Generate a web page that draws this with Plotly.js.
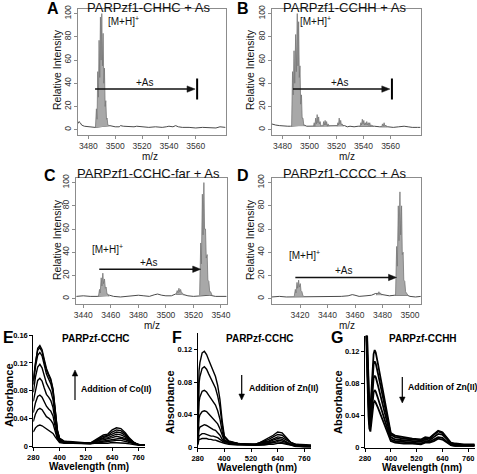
<!DOCTYPE html>
<html><head><meta charset="utf-8">
<script src="https://cdn.plot.ly/plotly-3.0.1.min.js"></script>
<style>html,body{margin:0;padding:0;background:#fff}#chart{width:477px;height:474px}</style>
</head><body><div id="chart"></div>
<script>
// ---------- DATA ----------
// Panel A: PARPzf1-CHHC + As
const aBaseMz  = [3472,3473,3474,3475,3477,3480,3483,3485,3496,3498,3500,3503,3504,3506,3510,3514,3516,3520,3525,3530,3535,3538,3540,3543,3545,3547,3550,3555,3560,3565,3570,3575,3578,3580,3582];
const aBaseInt = [5,7,6,4,3,2.5,2,2,3.5,3,2.5,2.5,3.5,3,2.5,2.5,3,2.5,2,2.5,2,2.5,3,2.5,3.5,2.5,2,2,1.5,2,2,1.5,2.5,2,2];
const aPeakMz  = [3485.3,3486,3486.5,3487,3487.5,3488,3488.5,3489,3489.5,3490,3490.5,3491,3491.5,3492,3492.5,3493,3493.5,3494,3494.5,3495,3495.7];
const aPeakInt = [2,18,9,50,28,77,45,97,60,100,55,83,40,53,20,25,9,10,4,4,3];
// Panel B: PARPzf1-CCHH + As
const bBaseMz  = [3472,3473,3475,3478,3481,3484,3486,3496,3498,3500,3502,3509,3515,3518,3526,3528,3530,3533,3536,3548,3550,3552,3558,3562,3566,3570,3573,3576,3580,3582];
const bBaseInt = [5,4.5,4,3.5,3,3,3,4,3,3,3,3.5,3,3,3.5,2.5,3,2.5,3,3,2.5,2.5,2.5,2,2.5,3,2.5,2,2,2];
const bPeakMz  = [3486.8,3487.5,3488,3488.6,3489.1,3489.8,3490.3,3491,3491.5,3492,3492.5,3493,3493.5,3494.1,3494.6,3495.2,3495.8,3496.5,null,
                  3503,3503.5,3504,3504.6,3505.1,3505.7,3506.2,3506.8,3507.3,3507.9,3508.5,null,
                  3510,3510.5,3511,3511.6,3512.1,3512.7,3513.2,3513.8,3514.4,null,
                  3520.5,3521,3521.5,3522,3522.5,3523.1,3523.6,3524.2,3525,null,
                  3537.5,3538,3538.5,3539.1,3539.6,3540.2,3540.7,3541.3,3541.8,3542.4,3542.9,3543.5,3544,3544.6,3545.2,3546,3547,null,
                  3553.5,3554,3554.6,3555.2,3555.8,3556.5,3557.2];
const bPeakInt = [3,50,30,68,40,82,50,100,55,93,45,55,22,30,10,10,4,3,null,
                  3,6,3,10,5,13,6,11,5,7,3,null,
                  3,7,4,8,4,7,3,5,3,null,
                  3,6,4,10,5,8,4,5,3,null,
                  3,6,4,9,5,8,4,6,4,7,4,6,3.5,6,3,4,3,null,
                  2.5,5,3,6,3,4,2.5];
// Panel C: PARPzf1-CCHC-far + As
const cBaseMz  = [3435,3440,3445,3450,3459,3462,3467,3472,3476,3480,3484,3488,3492,3494,3497,3500,3504,3507,3513,3516,3520,3524,3532,3536,3540,3544];
const cBaseInt = [2,2.5,2,2,3,2,1.5,2,2.5,3,2.5,2,3.5,4,3,2.5,2.5,4,3.5,2.5,2,2.5,3,2,2,2];
const cPeakMz  = [3451,3451.8,3452.3,3453,3453.5,3454.2,3454.7,3455.4,3456,3456.6,3457.2,3457.9,3458.7,null,
                  3507.5,3508.2,3508.8,3509.5,3510,3510.7,3511.3,3512,3513,null,
                  3524.5,3525.3,3525.8,3526.5,3527,3527.6,3528.1,3528.8,3529.3,3530,3530.5,3531.2,3531.8,3532.5,3533.5];
const cPeakInt = [2,8,5,18,11,22,13,17,9,10,4,4,2,null,
                  4,7,5,9,6,8,5,5,3,null,
                  3,48,30,90,55,100,60,60,35,38,16,15,6,6,3];
// Panel D: PARPzf1-CCCC + As
const dBaseMz  = [3399.5,3405,3410,3415,3424,3428,3432,3436,3440,3445,3450,3455,3458,3460,3463,3468,3472,3475,3481,3485,3489,3498,3500,3504,3508];
const dBaseInt = [1.5,2,1.5,1.5,2,1.5,2,1.5,2,2,2,2.5,3.5,3,2,2.5,3,4.5,3,2.5,3,3,2,1.5,2];
const dPeakMz  = [3415.8,3416.6,3417.1,3417.8,3418.3,3419,3419.5,3420.2,3420.7,3421.4,3422,3422.8,null,
                  3475.5,3476.2,3476.8,3477.4,3478,3478.6,3479.3,null,
                  3489.5,3490.3,3490.8,3491.5,3492,3492.7,3493.2,3493.9,3494.4,3495,3495.5,3496.2,3496.8,3497.5,3498.5];
const dPeakInt = [2,8,5,14,9,16,10,13,7,6,3,2,null,
                  3,5,4,6,4,5,3,null,
                  3,45,28,80,50,92,55,80,38,40,16,15,6,5,3];

// Panel E: Co(II) titration of PARPzf-CCHC
const eWl = [280,290,300,310,320,330,340,350,360,370,380,390,400,420,460,500,540,560,580,600,620,640,660,680,700,720,740,760,790];
const eAbs1 = [0.021,0.027,0.030,0.031,0.030,0.028,0.026,0.024,0.022,0.019,0.014,0.009,0.006,0.005,0.005,0.004,0.004,0.004,0.005,0.005,0.005,0.006,0.006,0.006,0.005,0.004,0.003,0.002,0.002];
const eAbs2 = [0.036,0.047,0.053,0.055,0.053,0.048,0.043,0.041,0.038,0.033,0.022,0.011,0.007,0.006,0.005,0.005,0.004,0.005,0.006,0.007,0.007,0.008,0.009,0.009,0.008,0.006,0.004,0.003,0.002];
const eAbs3 = [0.049,0.063,0.072,0.074,0.071,0.064,0.058,0.054,0.051,0.044,0.029,0.013,0.008,0.006,0.005,0.005,0.004,0.006,0.007,0.008,0.009,0.011,0.012,0.012,0.010,0.007,0.004,0.003,0.002];
const eAbs4 = [0.065,0.083,0.095,0.098,0.094,0.084,0.075,0.071,0.066,0.056,0.037,0.017,0.009,0.007,0.006,0.005,0.005,0.006,0.009,0.010,0.011,0.013,0.015,0.014,0.012,0.008,0.005,0.003,0.002];
const eAbs5 = [0.078,0.100,0.114,0.118,0.113,0.101,0.091,0.085,0.079,0.067,0.044,0.020,0.010,0.007,0.006,0.005,0.005,0.007,0.010,0.012,0.013,0.016,0.018,0.017,0.014,0.009,0.005,0.003,0.002];
const eAbs6 = [0.089,0.115,0.131,0.135,0.130,0.116,0.104,0.097,0.090,0.077,0.051,0.022,0.011,0.007,0.006,0.006,0.005,0.007,0.011,0.013,0.015,0.018,0.021,0.020,0.016,0.010,0.006,0.003,0.002];
const eAbs7 = [0.094,0.121,0.138,0.142,0.136,0.122,0.109,0.102,0.095,0.081,0.053,0.023,0.012,0.008,0.006,0.006,0.005,0.008,0.012,0.015,0.016,0.021,0.024,0.023,0.018,0.011,0.006,0.003,0.002];
const eAbs8 = [0.096,0.123,0.141,0.145,0.139,0.125,0.112,0.104,0.097,0.083,0.054,0.024,0.012,0.008,0.007,0.006,0.005,0.009,0.013,0.017,0.018,0.024,0.027,0.026,0.020,0.012,0.006,0.003,0.002];

// Panel F: Zn(II) titration of Co-PARPzf-CCHC
const fWl = [280,283,286,290,300,310,320,330,340,350,360,370,380,390,400,420,460,500,540,560,580,600,620,640,660,680,700,720,760,790];
const fAbs1 = [0.012,0.071,0.094,0.104,0.116,0.118,0.114,0.107,0.100,0.094,0.087,0.076,0.059,0.033,0.014,0.008,0.005,0.004,0.004,0.006,0.009,0.011,0.015,0.019,0.018,0.012,0.006,0.004,0.003,0.003];
const fAbs2 = [0.010,0.059,0.079,0.087,0.097,0.099,0.096,0.090,0.084,0.079,0.073,0.063,0.050,0.028,0.012,0.007,0.005,0.004,0.004,0.006,0.008,0.010,0.013,0.016,0.015,0.010,0.006,0.004,0.003,0.002];
const fAbs3 = [0.008,0.042,0.056,0.062,0.069,0.070,0.068,0.064,0.060,0.056,0.052,0.045,0.035,0.020,0.009,0.007,0.005,0.004,0.004,0.005,0.007,0.008,0.011,0.013,0.012,0.009,0.005,0.003,0.002,0.002];
const fAbs4 = [0.006,0.027,0.036,0.040,0.044,0.045,0.044,0.041,0.038,0.036,0.033,0.029,0.023,0.014,0.008,0.006,0.005,0.004,0.003,0.005,0.006,0.007,0.009,0.011,0.010,0.007,0.004,0.003,0.002,0.001];
const fAbs5 = [0.005,0.017,0.022,0.025,0.027,0.028,0.027,0.025,0.024,0.022,0.021,0.018,0.015,0.010,0.007,0.006,0.004,0.004,0.003,0.004,0.005,0.006,0.007,0.009,0.008,0.006,0.004,0.002,0.001,0.001];
const fAbs6 = [0.004,0.011,0.014,0.015,0.017,0.017,0.016,0.015,0.014,0.014,0.013,0.012,0.010,0.008,0.006,0.005,0.004,0.003,0.003,0.003,0.004,0.005,0.006,0.007,0.006,0.005,0.003,0.002,0.001,0.001];
const fAbs7 = [0.003,0.008,0.010,0.010,0.011,0.011,0.011,0.010,0.010,0.009,0.009,0.008,0.007,0.006,0.005,0.004,0.003,0.003,0.003,0.003,0.003,0.004,0.004,0.005,0.005,0.004,0.003,0.001,0.000,0.000];

// Panel G: Zn(II) titration of Co-PARPzf-CCHH
const gWl = [280,284,288,292,296,300,305,310,315,320,325,330,340,350,360,370,380,390,400,420,460,500,540,560,580,600,620,640,660,680,700,740,790];
const gAbs1 = [0.20,0.18,0.16,0.12,0.08,0.055,0.048,0.07,0.10,0.117,0.122,0.119,0.105,0.090,0.074,0.058,0.043,0.028,0.018,0.015,0.013,0.011,0.010,0.013,0.012,0.017,0.021,0.019,0.013,0.006,0.005,0.004,0.004];
const gAbs2 = [0.20,0.18,0.155,0.11,0.07,0.047,0.040,0.060,0.088,0.104,0.108,0.105,0.093,0.080,0.066,0.052,0.038,0.025,0.016,0.013,0.011,0.010,0.009,0.012,0.011,0.016,0.020,0.018,0.012,0.005,0.004,0.003,0.003];
const gAbs3 = [0.20,0.17,0.15,0.10,0.06,0.038,0.032,0.050,0.073,0.087,0.090,0.088,0.078,0.067,0.055,0.043,0.032,0.021,0.013,0.010,0.009,0.008,0.007,0.010,0.009,0.013,0.017,0.016,0.011,0.004,0.003,0.003,0.003];
const gAbs4 = [0.19,0.17,0.14,0.09,0.05,0.030,0.026,0.040,0.058,0.069,0.072,0.070,0.062,0.053,0.044,0.035,0.026,0.017,0.010,0.008,0.007,0.006,0.005,0.008,0.007,0.010,0.013,0.012,0.008,0.003,0.002,0.002,0.002];
const gAbs5 = [0.19,0.16,0.13,0.08,0.04,0.024,0.020,0.032,0.047,0.056,0.058,0.056,0.050,0.043,0.036,0.028,0.021,0.014,0.008,0.006,0.005,0.005,0.004,0.006,0.006,0.008,0.011,0.010,0.007,0.003,0.002,0.002,0.002];

// Tick values / labels
const mzTicksAB = [3480,3500,3520,3540,3560];
const mzTicksC  = [3440,3460,3480,3500,3520,3540];
const mzTicksD  = [3420,3440,3460,3480,3500];
const intTicks  = [0,20,40,60,80,100];
const wlTicks   = [280,400,520,640,760];
const absTicksE = [0,0.04,0.08,0.12,0.16];
const absTicksFG= [0,0.04,0.08,0.12];
const msTitles  = ["PARPzf1-CHHC + As","PARPzf1-CCHH + As","PARPzf1-CCHC-far + As","PARPzf1-CCCC + As"];
const uvTitles  = ["PARPzf-CCHC","PARPzf-CCHC","PARPzf-CCHH"];
const uvNotes   = ["Addition of Co(II)","Addition of Zn(II)","Addition of Zn(II)"];
const letters   = ["A","B","C","D","E","F","G"];

// ---------- LAYOUT ----------
const W = 477, H = 474;
const px = v => v / W, py = v => 1 - v / H;
const TOPF = "'Liberation Sans', Arial, Helvetica, sans-serif";
const BOTF = "'Liberation Sans', Arial, sans-serif";

const traces = [];
function ms(baseX, baseY, pkX, pkY, ax) {
  traces.push({x: baseX, y: baseY, mode: 'lines', line: {color: '#4a4a4a', width: 1}, xaxis: 'x' + ax, yaxis: 'y' + ax, hoverinfo: 'skip'});
  traces.push({x: pkX, y: pkY, mode: 'lines', fill: 'toself', fillcolor: '#a8a8a8', line: {color: '#767676', width: 0.8}, xaxis: 'x' + ax, yaxis: 'y' + ax, hoverinfo: 'skip'});
}
ms(aBaseMz, aBaseInt, aPeakMz, aPeakInt, '');
ms(bBaseMz, bBaseInt, bPeakMz, bPeakInt, '2');
ms(cBaseMz, cBaseInt, cPeakMz, cPeakInt, '3');
ms(dBaseMz, dBaseInt, dPeakMz, dPeakInt, '4');
function uv(xs, ys, ax, w) {
  traces.push({x: xs, y: ys, mode: 'lines', line: {color: '#000', width: w}, xaxis: 'x' + ax, yaxis: 'y' + ax, hoverinfo: 'skip'});
}
[eAbs1,eAbs2,eAbs3,eAbs4,eAbs5,eAbs6,eAbs7,eAbs8].forEach(s => uv(eWl, s, '5', 1.4));
[fAbs1,fAbs2,fAbs3,fAbs4,fAbs5,fAbs6,fAbs7].forEach(s => uv(fWl, s, '6', 1.4));
[gAbs1,gAbs2,gAbs3,gAbs4,gAbs5].forEach(s => uv(gWl, s, '7', 1.8));

const msAx = (dom, range, tv) => ({domain: dom, range: range, tickvals: tv, showline: true, mirror: true, linecolor: '#8c8c8c', linewidth: 1,
  ticks: 'outside', ticklen: 3, tickcolor: '#8c8c8c', showgrid: false, zeroline: false,
  tickfont: {family: TOPF, size: 8.5, color: '#333'}});
const msY = (dom, anchor) => Object.assign(msAx(dom, [-4.3, 104.3], intTicks), {tickangle: -90, anchor: anchor});
const uvAx = (dom, range, tv) => ({domain: dom, range: range, tickvals: tv, showline: true, mirror: false, linecolor: '#000', linewidth: 1,
  ticks: 'outside', ticklen: 3, tickcolor: '#000', showgrid: false, zeroline: false,
  tickfont: {family: BOTF, size: 7.5, color: '#000', weight: 'bold'}});

const layout = {
  width: W, height: H, margin: {l: 0, r: 0, t: 0, b: 0}, showlegend: false,
  paper_bgcolor: '#fff', plot_bgcolor: '#fff',
  xaxis:  Object.assign(msAx([px(78), px(226)], [3472.3, 3582.5], mzTicksAB), {anchor: 'y'}),
  yaxis:  msY([py(134.7), py(8.6)], 'x'),
  xaxis2: Object.assign(msAx([px(272), px(421)], [3472.3, 3582.5], mzTicksAB), {anchor: 'y2'}),
  yaxis2: msY([py(134.7), py(8.6)], 'x2'),
  xaxis3: Object.assign(msAx([px(76), px(227)], [3434.7, 3544.4], mzTicksC), {anchor: 'y3'}),
  yaxis3: msY([py(303.7), py(177.6)], 'x3'),
  xaxis4: Object.assign(msAx([px(271.7), px(420.7)], [3399.4, 3507.8], mzTicksD), {anchor: 'y4'}),
  yaxis4: msY([py(303.7), py(177.6)], 'x4'),
  xaxis5: Object.assign(uvAx([px(33.3), px(145)], [280, 790], wlTicks), {anchor: 'y5'}),
  yaxis5: Object.assign(uvAx([py(446.7), py(335)], [0, 0.16], absTicksE), {anchor: 'x5'}),
  xaxis6: Object.assign(uvAx([px(197.7), px(311)], [280, 790], wlTicks), {anchor: 'y6'}),
  yaxis6: Object.assign(uvAx([py(447.5), py(333.3)], [0, 0.14], absTicksFG), {anchor: 'x6'}),
  xaxis7: Object.assign(uvAx([px(365), px(474.7)], [280, 790], wlTicks), {anchor: 'y7'}),
  yaxis7: Object.assign(uvAx([py(447.5), py(335.7)], [0, 0.14], absTicksFG), {anchor: 'x7'}),
  annotations: [], shapes: []
};

const ann = layout.annotations, shp = layout.shapes;
function paperText(text, x, y, font, opts) {
  ann.push(Object.assign({text: text, xref: 'paper', yref: 'paper', x: px(x), y: py(y), showarrow: false,
    xanchor: 'center', yanchor: 'middle', font: font}, opts || {}));
}
const fTopTitle = {family: TOPF, size: 13, color: '#111'};
const fTopLab = {family: TOPF, size: 10.5, color: '#111'};
const fMz = {family: TOPF, size: 10, color: '#111'};
const fLetter = {family: "'Liberation Sans', Arial, sans-serif", size: 16, color: '#000', weight: 'bold'};
// letters
[[53,8],[243,8],[50,175],[243,175],[8,337],[177,337],[337,337]].forEach((p, i) => paperText(letters[i], p[0], p[1], fLetter));
// MS titles and axis labels
[[148,7.5],[344,7.5],[148,173],[344,173]].forEach((p, i) => paperText(msTitles[i], p[0], p[1], fTopTitle));
[[57,70],[250,70],[57,240],[250,240]].forEach(p => paperText('Relative Intensity', p[0], p[1], fTopLab, {textangle: -90}));
[[150,156],[347,156],[152,325],[347,325]].forEach(p => paperText('m/z', p[0], p[1], fMz));

// MS inner labels and arrows (data coords)
const fIn = {family: TOPF, size: 10, color: '#111'};
function msInner(ax, mhX, mhY, mhAnchor, asX, asY, arFrom, arTo, arY, bar, pxPerMz) {
  const xr = 'x' + ax, yr = 'y' + ax;
  ann.push({text: '[M+H]<sup>+</sup>', xref: xr, yref: yr, x: mhX, y: mhY, showarrow: false, xanchor: mhAnchor, yanchor: 'middle', font: fIn});
  ann.push({text: '+As', xref: xr, yref: yr, x: asX, y: asY, showarrow: false, xanchor: 'center', yanchor: 'middle', font: fIn});
  const hl = 8 / pxPerMz, hw = 3.2 / 1.167;   // arrow head: 8 px long, 3.2 px half-width
  shp.push({type: 'line', xref: xr, yref: yr, x0: arFrom, x1: arTo - hl * 0.6, y0: arY, y1: arY, line: {color: '#111', width: 1.4}});
  shp.push({type: 'path', xref: xr, yref: yr, path: `M ${arTo} ${arY} L ${arTo - hl} ${arY + hw} L ${arTo - hl} ${arY - hw} Z`,
    fillcolor: '#111', line: {color: '#111', width: 0.5}});
  if (bar) shp.push({type: 'line', xref: xr, yref: yr, x0: bar, x1: bar, y0: 26, y1: 44, line: {color: '#000', width: 2}});
}
msInner('', 3493, 94, 'left', 3522, 41, 3485, 3559.5, 35, 3561, 1.335);
msInner('2', 3491.5, 94, 'left', 3522.7, 41, 3487.8, 3559.5, 35, 3561, 1.335);
msInner('3', 3457.5, 43, 'center', 3488, 31, 3451.6, 3525.3, 25.4, null, 1.377);
msInner('4', 3423, 38, 'center', 3452, 24, 3416.6, 3490.2, 18.3, null, 1.375);

// UV panels
const fUvTitle = {family: BOTF, size: 10, color: '#000', weight: 'bold'};
const fUvLab = {family: BOTF, size: 11, color: '#000', weight: 'bold'};
const fUvX = {family: BOTF, size: 10, color: '#000', weight: 'bold'};
const fUvNote = {family: BOTF, size: 8.7, color: '#000', weight: 'bold'};
[[96,338],[260,338],[423,338]].forEach((p, i) => paperText(uvTitles[i], p[0], p[1], fUvTitle));
[[9,395],[170,402],[338,402]].forEach(p => paperText('Absorbance', p[0], p[1], fUvLab, {textangle: -90}));
[[89,466.5],[257,467.5],[422,467.5]].forEach(p => paperText('Wavelength (nm)', p[0], p[1], fUvX));
[[79,389],[246.5,388],[405.5,387]].forEach((p, i) => paperText(uvNotes[i], p[0], p[1], fUvNote, {xanchor: 'left'}));
// vertical arrows: [x, tip y, tail y]
[[75,370,400],[241.7,400,375],[402.3,403,377]].forEach(p => {
  const dir = p[2] > p[1] ? 1 : -1, hl = 6, hw = 2.8;
  shp.push({type: 'line', xref: 'paper', yref: 'paper', x0: px(p[0]), x1: px(p[0]), y0: py(p[2]), y1: py(p[1] + dir * hl * 0.6), line: {color: '#000', width: 1.2}});
  shp.push({type: 'path', xref: 'paper', yref: 'paper',
    path: `M ${px(p[0])} ${py(p[1])} L ${px(p[0] - hw)} ${py(p[1] + dir * hl)} L ${px(p[0] + hw)} ${py(p[1] + dir * hl)} Z`,
    fillcolor: '#000', line: {color: '#000', width: 0.5}});
});

Plotly.newPlot('chart', traces, layout, {staticPlot: true, displayModeBar: false});
</script></body></html>
